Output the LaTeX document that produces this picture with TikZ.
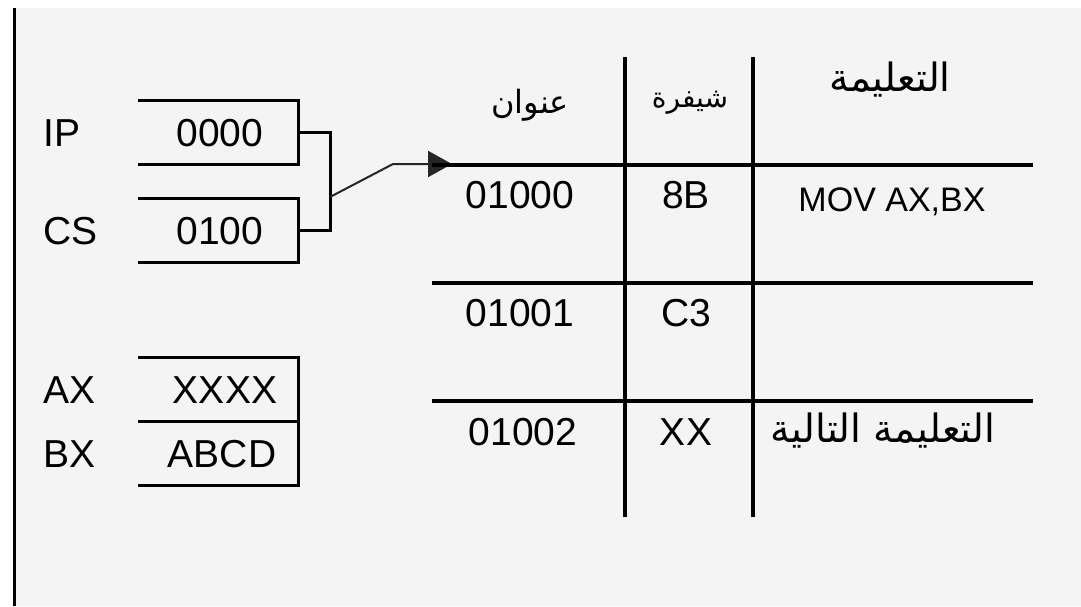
\documentclass[tikz,border=0pt]{standalone}
\usepackage{fontspec}
\setmainfont{Liberation Sans}
\newfontfamily\arabicfont[Script=Arabic]{DejaVu Sans}
\TeXXeTstate=1
\usetikzlibrary{arrows.meta}
\definecolor{panel}{HTML}{F4F4F4}
\tikzset{
  reg/.style={minimum width=160pt, minimum height=64pt, inner sep=0pt, outer sep=0pt},
  txt/.style={inner sep=0pt, text depth=0pt, font=\fontsize{39}{46}\selectfont},
  small/.style={txt, font=\fontsize{34}{40}\selectfont},
  ar/.style={inner sep=0pt, font=\arabicfont\fontsize{#1}{1.2\dimexpr#1pt\relax}\selectfont},
  ar/.default=38,
  edge/.style={line width=3pt},
  rule/.style={line width=3.5pt},
  link/.style={line width=2pt, draw=black!85},
}
\begin{document}
\begin{tikzpicture}[x=1pt,y=-1pt]
  % page and panel
  \useasboundingbox (0,0) rectangle (1081,606);
  \fill[white] (0,0) rectangle (1081,606);
  \fill[panel] (14,8) rectangle (1081,606);
  \draw[line width=3pt] (14,8) -- (14,606);

  % segment registers
  \node[reg] (ip) at (218,132) {};
  \node[reg] (cs) at (218,230) {};
  \node[txt, anchor=west] (iplabel) at (43,133) {IP};
  \node[txt, anchor=west] (cslabel) at (43,231) {CS};
  \node[txt] (ipval) at (220,133) {0000};
  \node[txt] (csval) at (220,231) {0100};
  \draw[edge] (ip.north west) -- (ip.north east) -- (ip.south east) -- (ip.south west);
  \draw[edge] (cs.north west) -- (cs.north east) -- (cs.south east) -- (cs.south west);

  % general registers
  \node[reg] (ax) at (218,389) {};
  \node[reg] (bx) at (218,453) {};
  \node[txt, anchor=west] (axlabel) at (43,390) {AX};
  \node[txt, anchor=west] (bxlabel) at (43,454) {BX};
  \node[txt] (axval) at (225,390) {XXXX};
  \node[txt] (bxval) at (222,454) {ABCD};
  \draw[edge] (ax.north west) -- (ax.north east) -- (bx.south east) -- (bx.south west);
  \draw[edge] (ax.south west) -- (ax.south east);

  % CS:IP pair combined into an address
  \draw[edge] (ip.east) -- ++(32,0) |- (cs.east);
  \coordinate (join) at (330,197);
  \coordinate (bend) at (393,164);
  \coordinate (tip) at (452,164);
  \draw[link, -{Triangle[length=24pt,width=26pt]}] (join) -- (bend) -- (tip);

  % memory table
  \draw[rule] (432,165) -- (1033,165);
  \draw[rule] (432,283) -- (1033,283);
  \draw[rule] (432,401) -- (1033,401);
  \draw[rule] (625,57) -- (625,517);
  \draw[rule] (753,57) -- (753,517);

  \node[ar=32] (haddr) at (530,105) {\beginR عنوان\endR};
  \node[ar=28] (hcode) at (690,103) {\beginR شيفرة\endR};
  \node[ar=39] (hinstr) at (890,80) {\beginR التعليمة\endR};

  \node[txt] (a1) at (520,195) {01000};
  \node[txt] (c1) at (686,195) {8B};
  \node[small] (i1) at (892,200) {MOV AX,BX};

  \node[txt] (a2) at (520,313) {01001};
  \node[txt] (c2) at (686,313) {C3};

  \node[txt] (a3) at (523,432) {01002};
  \node[txt] (c3) at (686,432) {XX};
  \node[ar=39] (i3) at (883,431) {\beginR التعليمة التالية\endR};
\end{tikzpicture}
\end{document}
